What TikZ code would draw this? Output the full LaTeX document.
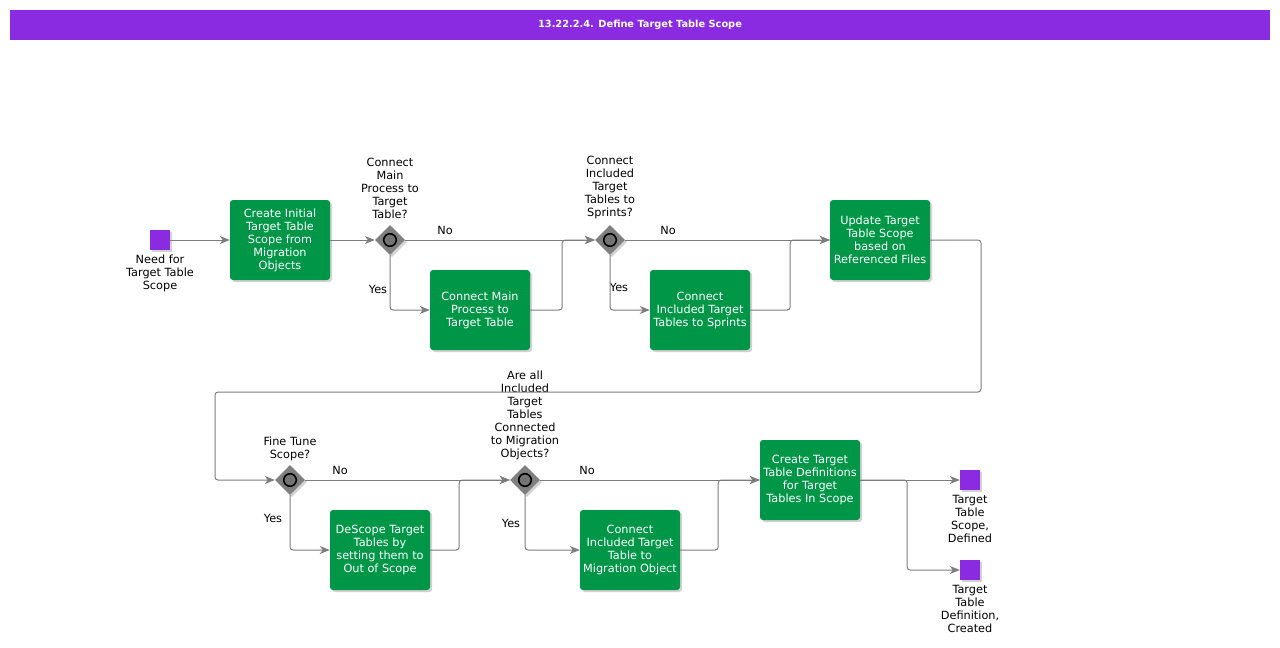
\documentclass[tikz,border=0pt]{standalone}
\usepackage{fontspec}
\setmainfont{DejaVu Sans}
\usetikzlibrary{arrows.meta,shapes.geometric,shadows}
\definecolor{ttl}{RGB}{138,43,226}
\definecolor{tsk}{RGB}{0,150,72}
\definecolor{lnc}{RGB}{125,125,125}
\definecolor{gw}{RGB}{128,128,128}
\definecolor{gwc}{RGB}{115,115,115}
\begin{document}
\begin{tikzpicture}[x=1pt,y=-1pt,
  shd/.style={drop shadow={shadow xshift=2pt,shadow yshift=-2pt,opacity=0.35,fill=gray}},
  task/.style={rectangle,rounded corners=3pt,fill=tsk,text=white,minimum width=100pt,minimum height=80pt,inner sep=1pt,align=center,font=\fontsize{11.3}{13}\selectfont,shd},
  evt/.style={rectangle,fill=ttl,minimum size=20pt,inner sep=0pt,shd},
  gwy/.style={diamond,fill=gw,minimum width=30pt,minimum height=30pt,inner sep=0pt,shd},
  lbl/.style={font=\fontsize{11.3}{13}\selectfont,align=center,text=black,inner sep=0pt},
  conn/.style={draw=lnc,line width=1pt,rounded corners=3pt,-{Stealth[length=10pt,width=8pt,inset=3pt]}}
]
\useasboundingbox (0,0) rectangle (1280,648);
\fill[white] (0,0) rectangle (1280,648);
\node[fill=ttl,minimum width=1260pt,minimum height=30pt,inner sep=0pt,text=white,font=\fontsize{9.8}{12}\bfseries] (title) at (640,25) {13.22.2.4. Define Target Table Scope};

% nodes
\node[evt] (s) at (160,240) {};
\node[lbl,anchor=north] (sl) at (160,255) {Need for\\Target Table\\Scope};
\node[task] (t1) at (280,240) {Create Initial\\Target Table\\Scope from\\Migration\\Objects};
\node[gwy] (g1) at (390,240) {};
\node[lbl,anchor=south] (g1l) at (390,219) {Connect\\Main\\Process to\\Target\\Table?};
\node[task] (t2) at (480,310) {Connect Main\\Process to\\Target Table};
\node[gwy] (g2) at (610,240) {};
\node[lbl,anchor=south] (g2l) at (610,219) {Connect\\Included\\Target\\Tables to\\Sprints?};
\node[task] (t3) at (700,310) {Connect\\Included Target\\Tables to Sprints};
\node[task] (t4) at (880,240) {Update Target\\Table Scope\\based on\\Referenced Files};
\node[gwy] (g3) at (290,480) {};
\node[lbl,anchor=south] (g3l) at (290,461) {Fine Tune\\Scope?};
\node[task] (t5) at (380,550) {DeScope Target\\Tables by\\setting them to\\Out of Scope};
\node[gwy] (g4) at (525,480) {};
\node[lbl,anchor=south] (g4l) at (525,460) {Are all\\Included\\Target\\Tables\\Connected\\to Migration\\Objects?};
\node[task] (t6) at (630,550) {Connect\\Included Target\\Table to\\Migration Object};
\node[task] (t7) at (810,480) {Create Target\\Table Definitions\\for Target\\Tables In Scope};
\node[evt] (e1) at (970,480) {};
\node[lbl,anchor=north] (e1l) at (970,495) {Target\\Table\\Scope,\\Defined};
\node[evt] (e2) at (970,570) {};
\node[lbl,anchor=north] (e2l) at (970,585) {Target\\Table\\Definition,\\Created};

\foreach \g in {g1,g2,g3,g4}{\draw[line width=1.6pt,fill=gwc] (\g) circle (6.3pt);}

% yes / no labels
\node[lbl] (n1) at (445,230) {No};
\node[lbl] (y1) at (378,289) {Yes};
\node[lbl] (n2) at (668,230) {No};
\node[lbl] (y2) at (619,287) {Yes};
\node[lbl] (n3) at (340,470) {No};
\node[lbl] (y3) at (273,518) {Yes};
\node[lbl] (n4) at (587,470) {No};
\node[lbl] (y4) at (511,523) {Yes};

% connectors
\draw[conn] (s.east) -- (t1.west);
\draw[conn] (t1.east) -- (g1.west);
\draw[conn] (g1.east) -- (g2.west);
\draw[conn] (g1.south) |- (t2.west);
\draw[conn] (t2.east) -- ++(32,0) |- (g2.west);
\draw[conn] (g2.east) -- (t4.west);
\draw[conn] (g2.south) |- (t3.west);
\draw[conn] (t3.east) -- ++(40,0) |- (t4.west);
\draw[conn] (t4.east) -- (981,240) -- (981,392) -- (215,392) -- (215,480) -- (g3.west);
\draw[conn] (g3.east) -- (g4.west);
\draw[conn] (g3.south) |- (t5.west);
\draw[conn] (t5.east) -- ++(29,0) |- (g4.west);
\draw[conn] (g4.east) -- (t7.west);
\draw[conn] (g4.south) |- (t6.west);
\draw[conn] (t6.east) -- ++(38,0) |- (t7.west);
\draw[conn] (t7.east) -- (e1.west);
\draw[conn] (t7.east) -- ++(47,0) |- (e2.west);
\end{tikzpicture}
\end{document}
